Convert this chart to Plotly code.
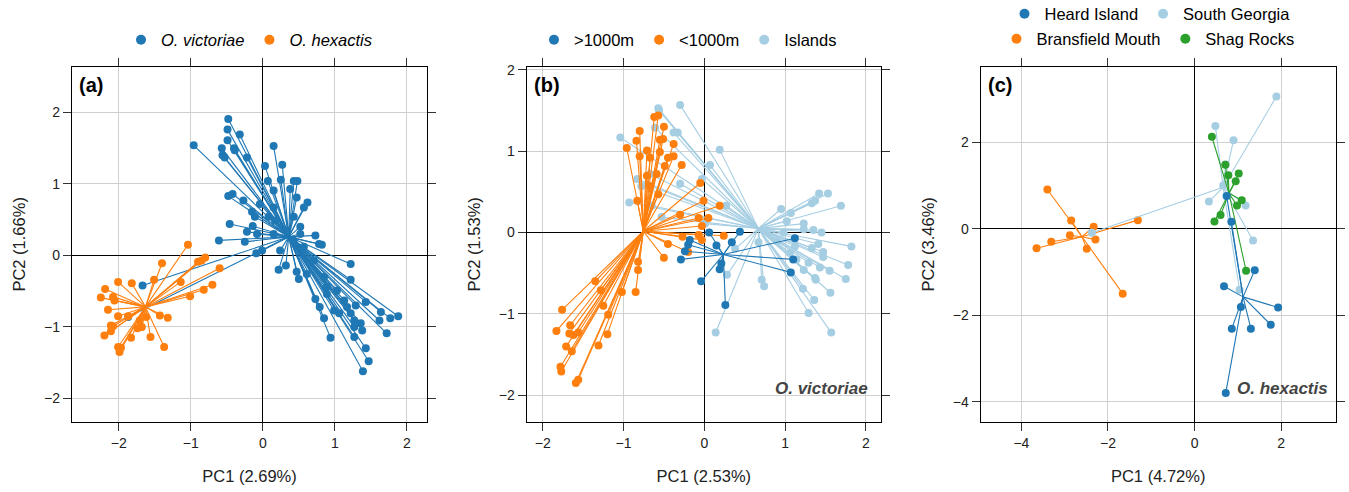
import plotly.graph_objects as go

# ---------------- Panel (a): species ----------------
a_vic_center = [0.36, 0.26]
a_vic_x = [-0.48, -0.49, -0.32, -0.49, -0.57, -0.40, -0.56, -0.53, -0.39, -0.22, -0.96, 0.15, 0.03, 0.27,
           -0.48, -0.42, -0.27, 0.07, 0.25, 0.43, 0.48, 0.38, 0.47, 0.62, 0.57, 0.15, -0.04, -0.15, -0.11,
           -0.46, -0.14, -0.22, -0.08, -0.61, -0.25, 0.08, 0.17, 0.43, 0.52, 0.73, 0.78, 0.82, 0.52, -0.09,
           -0.01, 0.22, 0.32, 0.50, 0.47, 0.24, 1.22, 1.22, 0.73, 0.79, 0.85, 0.94, 0.99, 1.06, 1.17, 1.27,
           1.29, 1.43, 1.27, 1.36, 1.38, 1.64, 1.62, 1.77, 1.88, 1.72, 1.43, 1.47, 1.39, 1.27, 1.13, 1.03,
           0.89, 1.22, -1.67, -1.87, 0.15, 0.43, 0.34, 0.57, 0.15, 0.71, 0.61, 0.85, 0.89]
a_vic_y = [1.91, 1.76, 1.69, 1.61, 1.50, 1.50, 1.40, 1.37, 1.47, 1.37, 1.54, 1.53, 1.25, 1.27,
           0.83, 0.86, 0.77, 1.04, 1.06, 1.04, 1.04, 0.93, 0.81, 0.74, 0.67, 0.91, 0.72, 0.61, 0.54,
           0.44, 0.41, 0.33, 0.30, 0.21, 0.19, 0.54, 0.49, 0.54, 0.40, 0.28, 0.16, 0.15, 0.30, 0.03,
           0.07, -0.20, -0.14, -0.33, -0.23, 0.07, -0.12, -0.34, -0.61, -0.72, -0.88, -1.15, -0.77, -0.81,
           -0.72, -0.91, -0.70, -0.65, -1.00, -0.95, -1.05, -0.79, -0.91, -0.88, -0.85, -1.09, -1.30, -1.48,
           -1.62, -1.14, -0.63, -0.49, -0.54, -0.81, -0.42, -0.86, 0.67, 0.21, 0.35, 0.12, 0.30, -0.07,
           -0.26, -0.30, -0.44]
a_hex_center = [-1.63, -0.72]
a_hex_x = [-1.04, -0.80, -0.85, -0.90, -0.60, -1.40, -1.14, -1.51, -0.70, -0.82, -1.01, -2.01, -1.82,
           -2.19, -2.25, -2.08, -2.06, -2.15, -2.01, -1.87, -1.43, -1.32, -2.11, -2.08, -2.20, -2.11,
           -1.74, -1.68, -1.83, -1.56, -1.37, -2.01, -1.97, -1.99, -1.62, -1.71]
a_hex_y = [0.15, -0.03, -0.07, -0.09, -0.18, -0.11, -0.37, -0.34, -0.41, -0.48, -0.57, -0.37, -0.39,
           -0.47, -0.59, -0.58, -0.63, -0.76, -0.85, -0.85, -0.84, -0.87, -0.98, -0.99, -1.12, -1.06,
           -1.02, -1.00, -1.15, -1.14, -1.28, -1.28, -1.29, -1.35, -0.86, -0.91]

# ---------------- Panel (b): O. victoriae by depth ----------------
b_deep_center = [0.235, -0.27]
b_deep_x = [0.06, 0.44, 0.15, 0.34, -0.29, -0.04, 0.19, 0.26, 1.07, 1.12, 1.10, -0.18, -0.24, -0.20, 0.21]
b_deep_y = [0.00, 0.01, -0.16, -0.12, -0.33, -0.60, -0.45, -0.89, -0.49, -0.07, -0.33, -0.09, -0.23, -0.15, -0.38]
b_shallow_center = [-0.755, 0.016]
b_shallow_x = [-0.62, -0.57, -0.50, -0.80, -0.55, -0.51, -0.84, -0.96, -0.71, -0.80, -0.67, -0.55, -0.45,
               -0.38, -0.38, -0.28, -0.49, -0.71, -0.59, -0.67, -0.57, -0.83, -0.05, -0.01, 0.19, -0.30,
               -0.07, 0.05, -0.03, -0.27, -0.07, -0.03, 0.24, -0.45, -0.20, -0.50, -0.82, -0.82, -1.02,
               -0.85, -1.35, -1.28, -1.25, -1.19, -1.76, -1.66, -1.83, -1.67, -1.56, -1.62, -1.20, -1.71,
               -1.64, -1.31, -1.78, -1.77, -1.56, -1.59]
b_shallow_y = [1.42, 1.44, 1.30, 1.25, 1.14, 1.15, 1.13, 1.04, 1.01, 0.94, 0.92, 0.99, 0.92, 0.94, 1.09,
               0.83, 0.82, 0.70, 0.72, 0.57, 0.47, 0.39, 0.61, 0.39, 0.33, 0.22, 0.18, 0.18, 0.08, -0.05,
               -0.03, -0.09, -0.04, -0.14, -0.24, -0.31, -0.36, -0.46, -0.73, -0.73, -0.60, -0.71, -0.90,
               -1.01, -0.95, -1.14, -1.21, -1.24, -1.23, -1.26, -1.25, -1.40, -1.46, -1.39, -1.65, -1.71,
               -1.81, -1.85]
b_isl_center = [0.668, 0.05]
b_isl_x = [-0.30, -0.57, -0.56, -1.04, -0.61, -0.38, -0.33, 0.19, 0.07, -0.03, -0.30, -0.83, -0.78, -0.71,
           -0.67, -0.93, -0.65, -0.53, 0.27, 0.01, 0.38, 0.67, 0.71, 0.74, 0.28, 0.14, 0.95, 1.02, 1.07,
           1.23, 1.23, 1.35, 1.45, 1.33, 1.37, 1.42, 1.53, 1.69, 1.82, 1.41, 1.33, 1.47, 1.47, 1.29, 1.78,
           1.43, 1.23, 1.55, 1.37, 1.38, 1.75, 1.56, 1.22, 1.36, 1.29, 1.57, 0.98, 0.90, 1.12, 1.06, 1.14]
b_isl_y = [1.57, 1.53, 1.50, 1.17, 1.29, 1.23, 1.23, 1.02, 0.83, 0.66, 0.60, 0.66, 0.57, 0.59, 0.72, 0.37,
           0.33, 0.19, 0.33, 0.11, -0.20, -0.12, -0.58, -0.66, -0.52, -1.23, 0.29, 0.14, 0.24, 0.11, 0.04,
           0.03, 0.00, 0.36, 0.39, 0.48, 0.48, 0.33, -0.17, -0.14, -0.19, -0.24, -0.30, -0.37, -0.40,
           -0.43, -0.46, -0.47, -0.56, -0.58, -0.57, -0.74, -0.69, -0.83, -0.99, -1.23, 0.00, -0.11,
           -0.17, -0.25, -0.33]

# ---------------- Panel (c): O. hexactis by site ----------------
c_heard_center = [1.12, -1.575]
c_heard_x = [0.74, 0.85, 0.68, 1.39, 1.93, 1.76, 1.30, 0.86, 1.07, 0.72]
c_heard_y = [0.76, 0.16, -1.33, -0.96, -1.82, -2.22, -2.31, -2.31, -1.81, -3.80]
c_sg_center = [0.66, 0.96]
c_sg_x = [1.89, 0.48, 0.90, 0.72, 0.33, 1.18, 1.35, 1.04, -2.37, 0.66]
c_sg_y = [3.06, 2.38, 2.05, 1.49, 0.63, 0.54, -0.27, -1.41, -0.09, 1.00]
c_bm_center = [-2.60, -0.185]
c_bm_x = [-3.40, -2.85, -3.65, -3.31, -2.88, -2.49, -2.33, -2.29, -1.31, -1.66]
c_bm_y = [0.91, 0.19, -0.45, -0.30, -0.15, -0.46, 0.05, -0.25, 0.20, -1.50]
c_shag_center = [0.795, 0.82]
c_shag_x = [0.40, 0.71, 0.78, 1.02, 0.95, 1.09, 0.98, 0.60, 0.46, 1.19]
c_shag_y = [2.13, 1.48, 1.24, 1.28, 1.10, 0.66, 0.54, 0.32, 0.17, -0.97]

# ---------------- styling ----------------
DARKBLUE = "#1f77b4"
ORANGE = "#ff7f0e"
LIGHTBLUE = "#a6cee3"
GREEN = "#2ca02c"
FONT = "Liberation Sans"
TXT = "#222222"


def star(center, xs, ys):
    lx, ly = [], []
    for x, y in zip(xs, ys):
        lx += [center[0], x, None]
        ly += [center[1], y, None]
    return lx, ly


fig = go.Figure()


def add_group(center, xs, ys, color, xa, ya):
    lx, ly = star(center, xs, ys)
    fig.add_trace(go.Scatter(x=lx, y=ly, mode="lines", line=dict(color=color, width=1.1),
                             xaxis=xa, yaxis=ya, showlegend=False, hoverinfo="skip"))
    fig.add_trace(go.Scatter(x=xs, y=ys, mode="markers", marker=dict(color=color, size=8),
                             xaxis=xa, yaxis=ya, showlegend=False))


def add_legend(name, color, legend):
    fig.add_trace(go.Scatter(x=[None], y=[None], mode="markers", name=name,
                             marker=dict(color=color, size=10), legend=legend, showlegend=True))


# panel a
add_group(a_vic_center, a_vic_x, a_vic_y, DARKBLUE, "x", "y")
add_group(a_hex_center, a_hex_x, a_hex_y, ORANGE, "x", "y")
# panel b
add_group(b_isl_center, b_isl_x, b_isl_y, LIGHTBLUE, "x2", "y2")
add_group(b_shallow_center, b_shallow_x, b_shallow_y, ORANGE, "x2", "y2")
add_group(b_deep_center, b_deep_x, b_deep_y, DARKBLUE, "x2", "y2")
# panel c
add_group(c_bm_center, c_bm_x, c_bm_y, ORANGE, "x3", "y3")
add_group(c_sg_center, c_sg_x, c_sg_y, LIGHTBLUE, "x3", "y3")
add_group(c_shag_center, c_shag_x, c_shag_y, GREEN, "x3", "y3")
add_group(c_heard_center, c_heard_x, c_heard_y, DARKBLUE, "x3", "y3")

# legends
add_legend("<i>O. victoriae</i>", DARKBLUE, "legend")
add_legend("<i>O. hexactis</i>", ORANGE, "legend")
add_legend(">1000m", DARKBLUE, "legend2")
add_legend("<1000m", ORANGE, "legend2")
add_legend("Islands", LIGHTBLUE, "legend2")
add_legend("Heard Island", DARKBLUE, "legend3")
add_legend("South Georgia", LIGHTBLUE, "legend3")
add_legend("Bransfield Mouth", ORANGE, "legend4")
add_legend("Shag Rocks", GREEN, "legend4")

W, H = 1349, 492
ydom = [(H - 422) / H, (H - 66.7) / H]
doms = [[72 / W, 427 / W], [526.7 / W, 881 / W], [980.7 / W, 1335.7 / W]]
xranges = [[-2.65, 2.28], [-2.198, 2.186], [-4.94, 3.26]]
yranges = [[-2.33, 2.64], [-2.33, 2.04], [-4.47, 3.75]]
xticks = [[-2, -1, 0, 1, 2], [-2, -1, 0, 1, 2], [-4, -2, 0, 2]]
yticks = [[-2, -1, 0, 1, 2], [-2, -1, 0, 1, 2], [-4, -2, 0, 2]]
xtitles = ["PC1 (2.69%)", "PC1 (2.53%)", "PC1 (4.72%)"]
ytitles = ["PC2 (1.66%)", "PC2 (1.53%)", "PC2 (3.46%)"]

axcommon = dict(showline=True, linecolor="black", linewidth=1.3, mirror="ticks", ticks="outside",
                ticklen=8, tickwidth=1.3, tickcolor="#333333", showgrid=True, gridcolor="#d0d0d0",
                gridwidth=1.2, zeroline=True, zerolinecolor="black", zerolinewidth=1.3,
                tickfont=dict(family=FONT, size=14, color=TXT), fixedrange=True)

layout = dict(width=W, height=H, margin=dict(l=0, r=0, t=0, b=0, autoexpand=False),
              plot_bgcolor="white", paper_bgcolor="white", font=dict(family=FONT, color=TXT))
for i in range(3):
    sfx = "" if i == 0 else str(i + 1)
    layout["xaxis" + sfx] = dict(axcommon, domain=doms[i], range=xranges[i], tickvals=xticks[i],
                                 anchor="y" + sfx, automargin=False,
                                 title=dict(text=xtitles[i], font=dict(family=FONT, size=16.5, color=TXT),
                                            standoff=20))
    layout["yaxis" + sfx] = dict(axcommon, domain=ydom, range=yranges[i], tickvals=yticks[i],
                                 anchor="x" + sfx, automargin=False,
                                 title=dict(text=ytitles[i], font=dict(family=FONT, size=16.5, color=TXT),
                                            standoff=14))

legfont = dict(family=FONT, size=16.5, color="black")
layout["legend"] = dict(orientation="h", x=249 / W, xanchor="center", y=1 - 40 / H, yanchor="middle",
                        font=legfont, bgcolor="rgba(0,0,0,0)", itemwidth=30)
layout["legend2"] = dict(orientation="h", x=688 / W, xanchor="center", y=1 - 40 / H, yanchor="middle",
                         font=legfont, bgcolor="rgba(0,0,0,0)", itemwidth=30)
layout["legend3"] = dict(orientation="h", x=1150 / W, xanchor="center", y=1 - 14 / H, yanchor="middle",
                         font=legfont, bgcolor="rgba(0,0,0,0)", itemwidth=30)
layout["legend4"] = dict(orientation="h", x=1148 / W, xanchor="center", y=1 - 39 / H, yanchor="middle",
                         font=legfont, bgcolor="rgba(0,0,0,0)", itemwidth=30)

annots = []
for i, lab in enumerate(["(a)", "(b)", "(c)"]):
    sfx = "" if i == 0 else str(i + 1)
    annots.append(dict(text="<b>%s</b>" % lab, xref="x%s domain" % sfx, yref="y%s domain" % sfx,
                       x=0.015, y=0.985, xanchor="left", yanchor="top", showarrow=False,
                       font=dict(family=FONT, size=20, color="black")))
annots.append(dict(text="<b><i>O. victoriae</i></b>", xref="x2 domain", yref="y2 domain", x=0.97, y=0.093,
                   xanchor="right", yanchor="middle", showarrow=False,
                   font=dict(family=FONT, size=17, color="#444444")))
annots.append(dict(text="<b><i>O. hexactis</i></b>", xref="x3 domain", yref="y3 domain", x=0.985, y=0.095,
                   xanchor="right", yanchor="middle", showarrow=False,
                   font=dict(family=FONT, size=17, color="#444444")))
layout["annotations"] = annots

fig.update_layout(**layout)
fig.write_html("out.html")
